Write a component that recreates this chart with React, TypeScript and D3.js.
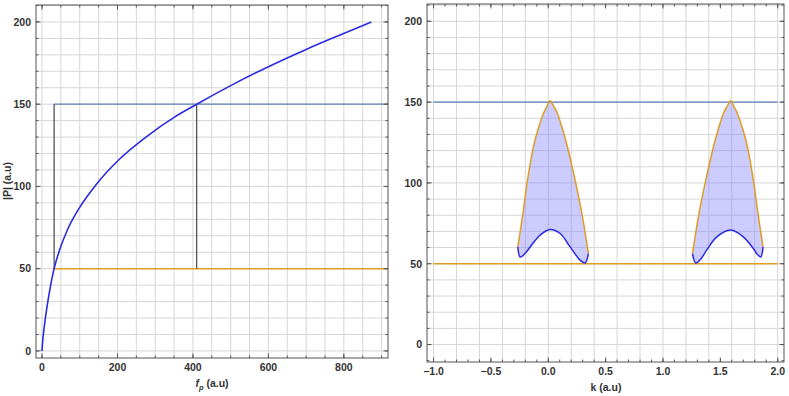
import React from "react";
import * as d3 from "d3";

// left panel: |P| against f_p
const fpValues = [0, 1, 3, 6, 12, 19, 32, 46, 68, 99, 143, 205, 280, 350, 410, 500, 600, 700, 790, 873];
const pValues = [0, 4, 9, 15, 25, 35, 50, 61, 74, 87, 101, 116.5, 130.8, 142, 150, 161.3, 172.8, 183.3, 192.1, 200];

const upperLevel = 150;
const lowerLevel = 50;
const fpLow = 32;
const fpHigh = 410;

// right panel: bands in k
const lobe1OuterK = [-0.265, -0.221, -0.181, -0.129, -0.091, -0.042, -0.012, 0.016, 0.049, 0.08, 0.127, 0.167, 0.234, 0.293, 0.341, 0.35];
const lobe1OuterP = [60.4, 81.1, 101.7, 122.4, 132.7, 143, 147.2, 150.9, 147.2, 143, 132.7, 122.4, 101.7, 81.1, 60.4, 56.3];
const lobe1InnerK = [-0.265, -0.245, -0.2, -0.158, -0.071, 0.016, 0.104, 0.191, 0.278, 0.321, 0.35];
const lobe1InnerP = [60.4, 54.2, 56.5, 60.4, 67.7, 71.2, 68.7, 60.4, 52.2, 50.5, 56.3];

const lobe2OuterK = [1.257, 1.266, 1.314, 1.373, 1.44, 1.48, 1.527, 1.558, 1.591, 1.619, 1.649, 1.698, 1.736, 1.788, 1.828, 1.872];
const lobe2OuterP = [56.3, 60.4, 81.1, 101.7, 122.4, 132.7, 143, 147.2, 150.9, 147.2, 143, 132.7, 122.4, 101.7, 81.1, 60.4];
const lobe2InnerK = [1.257, 1.286, 1.33, 1.381, 1.469, 1.591, 1.7, 1.788, 1.82, 1.852, 1.872];
const lobe2InnerP = [56.3, 50.5, 53, 58.4, 66.6, 70.8, 66.6, 59.4, 56, 54.2, 60.4];

const kStart = -1.0;
const kEnd = 2.0;

const blue = "#2b2be3";
const steel = "#5e81b5";
const orange = "#e19c24";
const gridColor = "#d6d6d6";
const frameColor = "#555";
const font = "'Liberation Sans', Arial, sans-serif";

type Box = { x0: number; x1: number; y0: number; y1: number };

function Frame({ box, x, y, xMajor, xMinor, yMajor, yMinor, xGrid, yGrid, xFmt, id, children }: any) {
  const b: Box = box;
  return (
    <g>
      <defs>
        <clipPath id={id}>
          <rect x={b.x0} y={b.y0} width={b.x1 - b.x0} height={b.y1 - b.y0} />
        </clipPath>
      </defs>
      <rect x={b.x0} y={b.y0} width={b.x1 - b.x0} height={b.y1 - b.y0} fill="white" />
      <g stroke={gridColor} strokeWidth={1}>
        {xGrid.map((v: number) => (
          <line key={"gx" + v} x1={x(v)} x2={x(v)} y1={b.y0} y2={b.y1} />
        ))}
        {yGrid.map((v: number) => (
          <line key={"gy" + v} x1={b.x0} x2={b.x1} y1={y(v)} y2={y(v)} />
        ))}
      </g>
      <g clipPath={`url(#${id})`}>{children}</g>
      <g stroke={frameColor} strokeWidth={1}>
        {xMinor.map((v: number) => (
          <g key={"xm" + v}>
            <line x1={x(v)} x2={x(v)} y1={b.y1} y2={b.y1 - 2.5} />
            <line x1={x(v)} x2={x(v)} y1={b.y0} y2={b.y0 + 2.5} />
          </g>
        ))}
        {xMajor.map((v: number) => (
          <g key={"xM" + v}>
            <line x1={x(v)} x2={x(v)} y1={b.y1} y2={b.y1 - 4.5} />
            <line x1={x(v)} x2={x(v)} y1={b.y0} y2={b.y0 + 4.5} />
          </g>
        ))}
        {yMinor.map((v: number) => (
          <g key={"ym" + v}>
            <line x1={b.x0} x2={b.x0 + 2.5} y1={y(v)} y2={y(v)} />
            <line x1={b.x1} x2={b.x1 - 2.5} y1={y(v)} y2={y(v)} />
          </g>
        ))}
        {yMajor.map((v: number) => (
          <g key={"yM" + v}>
            <line x1={b.x0} x2={b.x0 + 4.5} y1={y(v)} y2={y(v)} />
            <line x1={b.x1} x2={b.x1 - 4.5} y1={y(v)} y2={y(v)} />
          </g>
        ))}
        <rect x={b.x0} y={b.y0} width={b.x1 - b.x0} height={b.y1 - b.y0} fill="none" />
      </g>
      <g fontFamily={font} fontSize={10.5} fontWeight="bold" fill="#333">
        {xMajor.map((v: number) => (
          <text key={"xl" + v} x={x(v)} y={b.y1 + 13} textAnchor="middle">
            {xFmt(v)}
          </text>
        ))}
        {yMajor.map((v: number) => (
          <text key={"yl" + v} x={b.x0 - 5} y={y(v) + 3.8} textAnchor="end">
            {v}
          </text>
        ))}
      </g>
    </g>
  );
}

export default function App() {
  const lb: Box = { x0: 36, x1: 388, y0: 5, y1: 358 };
  const rb: Box = { x0: 427, x1: 784, y0: 4, y1: 362 };

  const xl = d3.scaleLinear().domain([-16, 917]).range([lb.x0, lb.x1]);
  const yl = d3.scaleLinear().domain([-4.3, 210.3]).range([lb.y1, lb.y0]);
  const xr = d3.scaleLinear().domain([-1.057, 2.055]).range([rb.x0, rb.x1]);
  const yr = d3.scaleLinear().domain([-10.8, 210.7]).range([rb.y1, rb.y0]);

  const curveData = fpValues.map((f, i) => [f, pValues[i]] as [number, number]);
  const leftLine = d3
    .line<[number, number]>()
    .x((d) => xl(d[0]))
    .y((d) => yl(d[1]))
    .curve(d3.curveMonotoneX);

  const rightLine = d3
    .line<[number, number]>()
    .x((d) => xr(d[0]))
    .y((d) => yr(d[1]))
    .curve(d3.curveCatmullRom.alpha(0.5));

  const lobes = [
    { ok: lobe1OuterK, op: lobe1OuterP, ik: lobe1InnerK, ip: lobe1InnerP },
    { ok: lobe2OuterK, op: lobe2OuterP, ik: lobe2InnerK, ip: lobe2InnerP },
  ].map((l) => {
    const outer = l.ok.map((k, i) => [k, l.op[i]] as [number, number]);
    const inner = l.ik.map((k, i) => [k, l.ip[i]] as [number, number]);
    const outerD = rightLine(outer) || "";
    const innerRev = (rightLine(inner.slice().reverse()) || "").replace(/^M/, "L");
    return { outerD, innerD: rightLine(inner) || "", fillD: outerD + innerRev + "Z" };
  });

  const fmtK = d3.format(".1f");

  return (
    <svg width={789} height={396} style={{ display: "block", background: "white" }}>
      <style>{`body{margin:0}`}</style>
      <Frame
        id="clipL"
        box={lb}
        x={xl}
        y={yl}
        xMajor={d3.range(0, 801, 200)}
        xMinor={d3.range(0, 901, 50)}
        yMajor={d3.range(0, 201, 50)}
        yMinor={d3.range(0, 211, 10)}
        xGrid={d3.range(0, 901, 50)}
        yGrid={d3.range(0, 211, 10)}
        xFmt={(v: number) => String(v)}
      >
        <line x1={xl(fpLow)} x2={lb.x1 + 5} y1={yl(upperLevel)} y2={yl(upperLevel)} stroke={steel} strokeWidth={1.2} />
        <line x1={xl(fpLow)} x2={lb.x1 + 5} y1={yl(lowerLevel)} y2={yl(lowerLevel)} stroke={orange} strokeWidth={1.6} />
        <line x1={xl(fpLow)} x2={xl(fpLow)} y1={yl(upperLevel)} y2={yl(lowerLevel)} stroke="#222" strokeWidth={1} />
        <line x1={xl(fpHigh)} x2={xl(fpHigh)} y1={yl(upperLevel)} y2={yl(lowerLevel)} stroke="#222" strokeWidth={1} />
        <path d={leftLine(curveData) || ""} fill="none" stroke={blue} strokeWidth={1.6} />
      </Frame>
      <text
        transform="translate(11,181) rotate(-90)"
        textAnchor="middle"
        fontFamily={font}
        fontSize={10.5}
        fontWeight="bold"
        fill="#333"
      >
        |P|  (a.u)
      </text>
      <text x={212} y={387} textAnchor="middle" fontFamily={font} fontSize={10.5} fontWeight="bold" fill="#333">
        <tspan fontStyle="italic">f</tspan>
        <tspan fontSize={7.5} dy={3} fontStyle="italic">p</tspan>
        <tspan dy={-3}> (a.u)</tspan>
      </text>

      <Frame
        id="clipR"
        box={rb}
        x={xr}
        y={yr}
        xMajor={d3.ticks(-1, 2, 6)}
        xMinor={d3.ticks(-1, 2, 30)}
        yMajor={d3.range(0, 201, 50)}
        yMinor={d3.range(-10, 211, 10)}
        xGrid={d3.ticks(-1, 2, 15)}
        yGrid={d3.range(0, 211, 10)}
        xFmt={(v: number) => fmtK(v)}
      >
        <line x1={xr(kStart)} x2={xr(kEnd)} y1={yr(upperLevel)} y2={yr(upperLevel)} stroke={steel} strokeWidth={1.2} />
        <line x1={xr(kStart)} x2={xr(kEnd)} y1={yr(lowerLevel)} y2={yr(lowerLevel)} stroke={orange} strokeWidth={1.6} />
        {lobes.map((l, i) => (
          <g key={i}>
            <path d={l.fillD} fill="#8080ff" fillOpacity={0.4} stroke="none" />
            <path d={l.outerD} fill="none" stroke={orange} strokeWidth={1.5} />
            <path d={l.innerD} fill="none" stroke={blue} strokeWidth={1.5} />
          </g>
        ))}
      </Frame>
      <text x={606} y={391} textAnchor="middle" fontFamily={font} fontSize={10.5} fontWeight="bold" fill="#333">
        k (a.u)
      </text>
    </svg>
  );
}
